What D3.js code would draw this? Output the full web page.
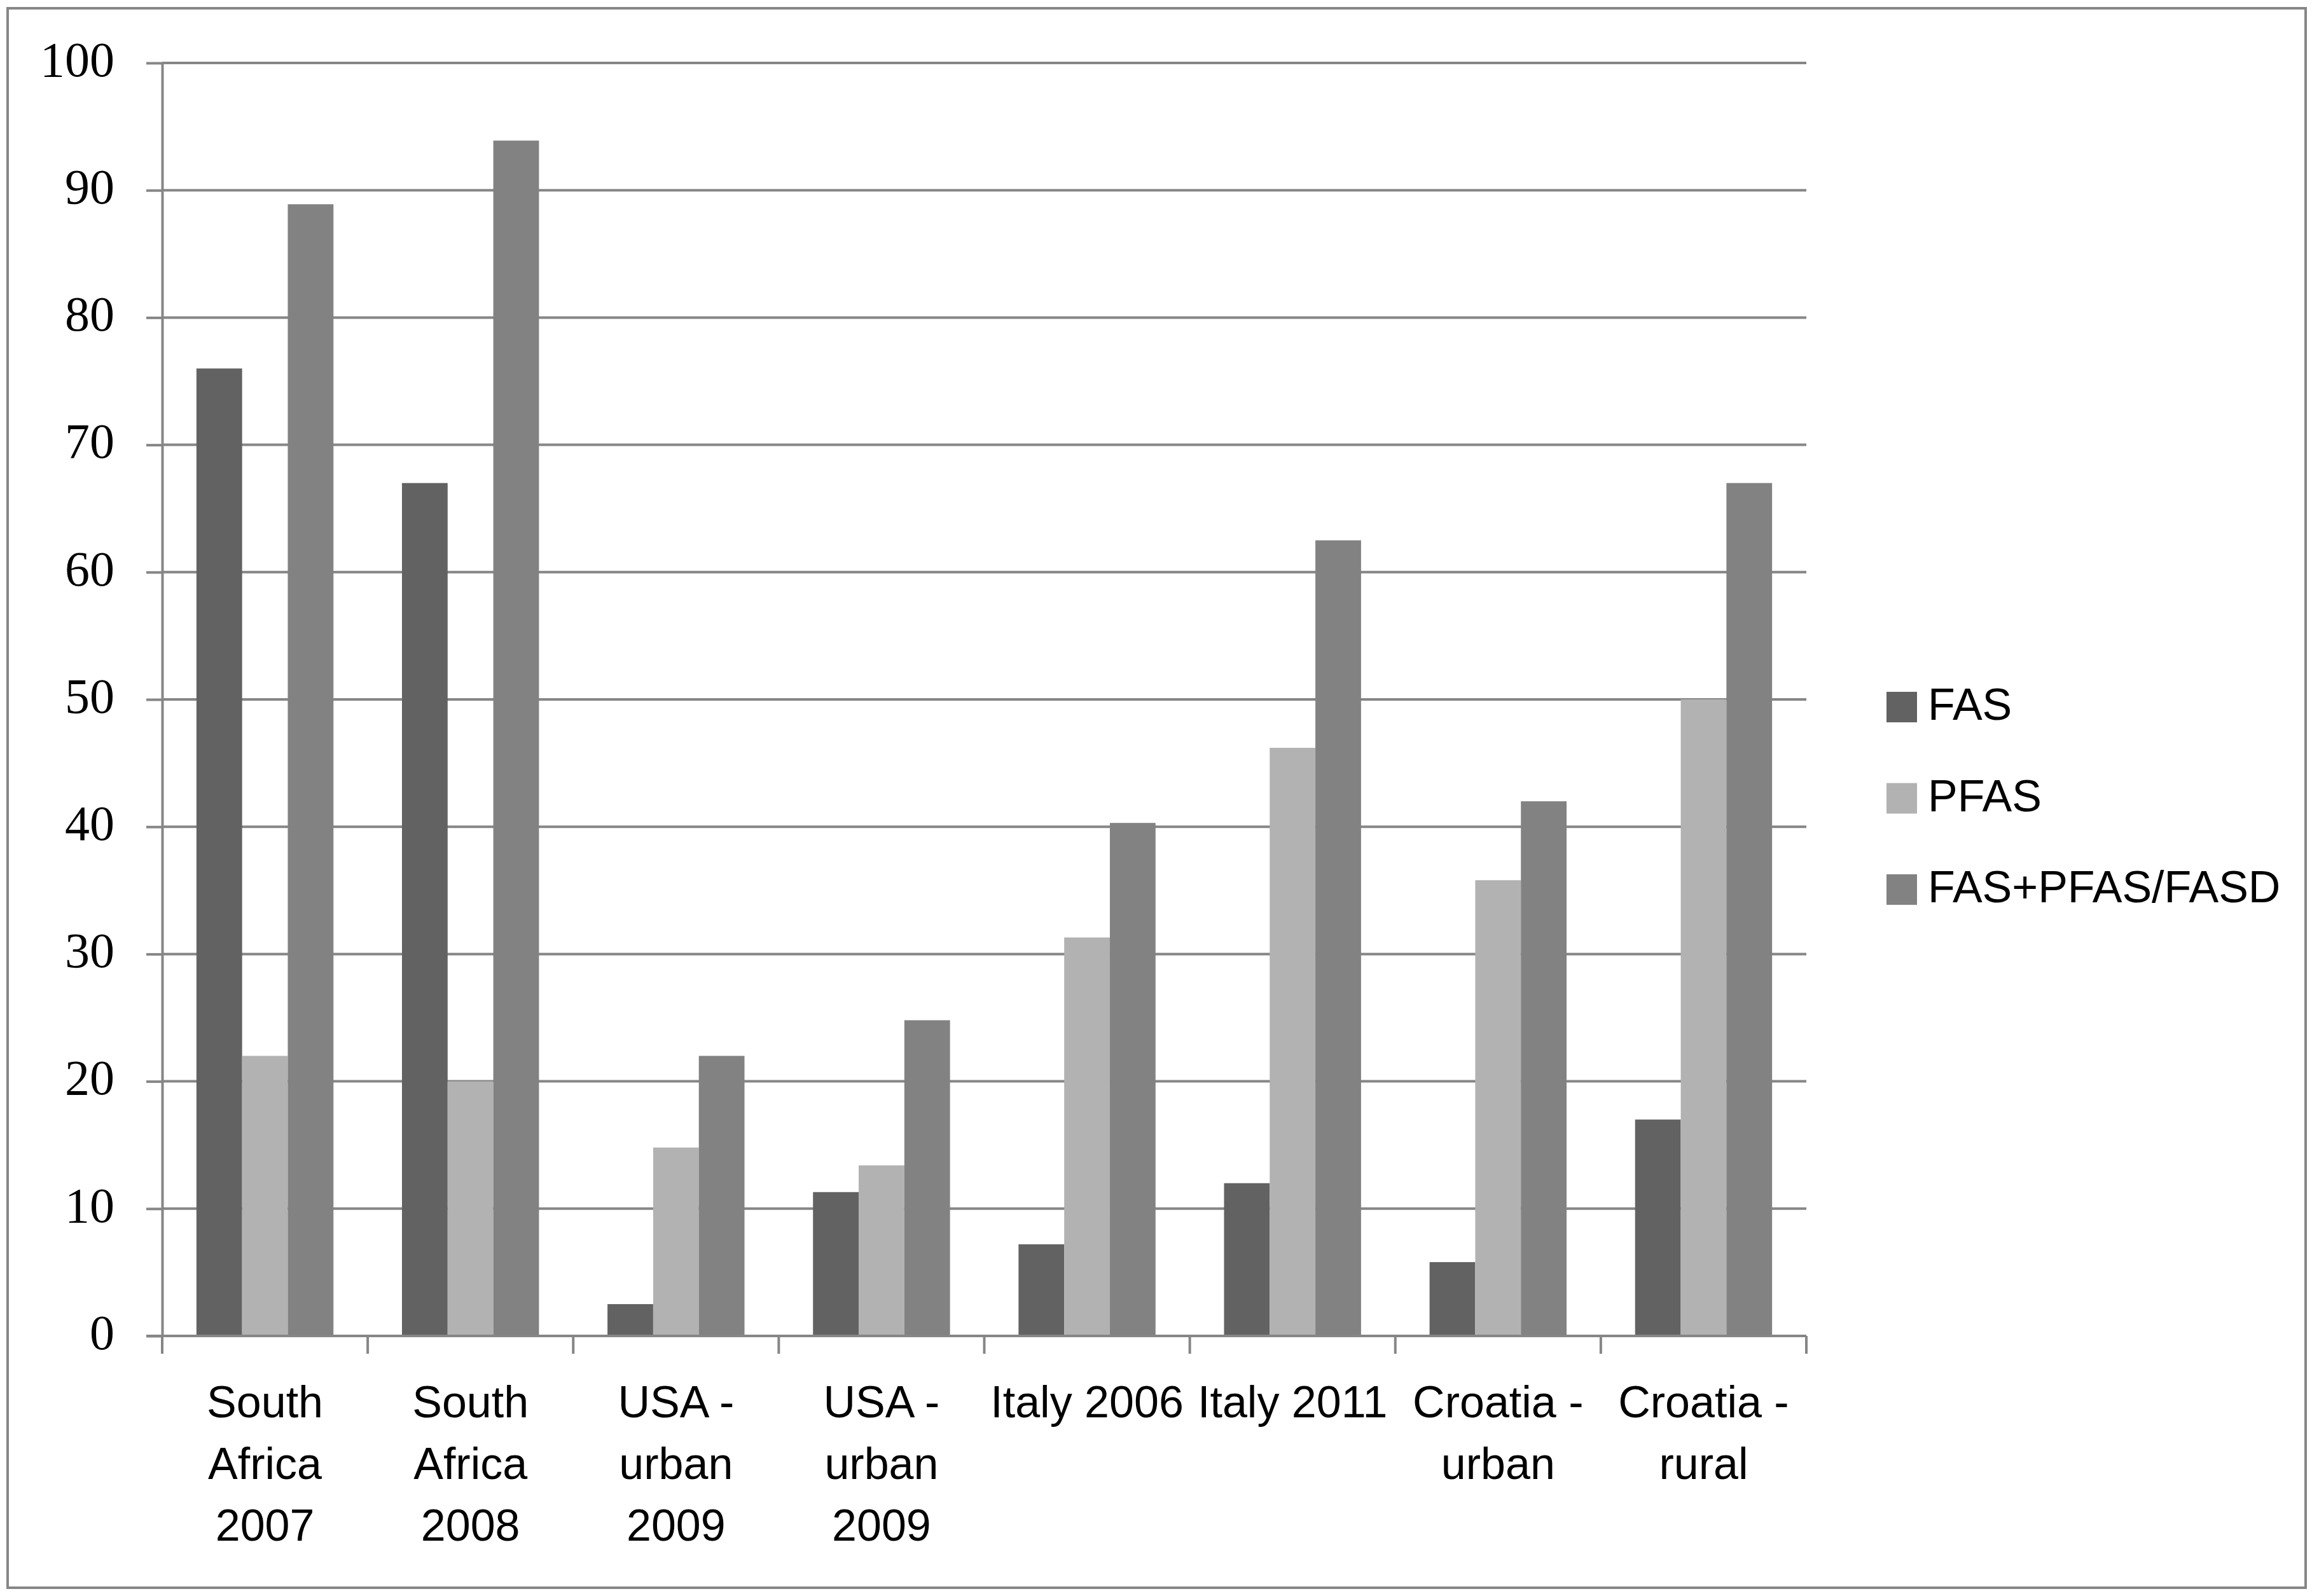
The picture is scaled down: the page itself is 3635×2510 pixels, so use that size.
<!DOCTYPE html>
<html>
<head>
<meta charset="utf-8">
<script src="https://cdn.jsdelivr.net/npm/d3@7"></script>
<style>
  html, body { margin: 0; padding: 0; background: #fff; }
  svg { display: block; }
</style>
</head>
<body>
<script>
// categories, split over lines the same way as the original axis labels
var categories = ["South Africa 2007", "South Africa 2008", "USA - urban 2009 a", "USA - urban 2009 b",
                  "Italy 2006", "Italy 2011", "Croatia - urban", "Croatia - rural"];
var categoryLines = [["South", "Africa", "2007"], ["South", "Africa", "2008"],
                     ["USA -", "urban", "2009"], ["USA -", "urban", "2009"],
                     ["Italy 2006"], ["Italy 2011"], ["Croatia -", "urban"], ["Croatia -", "rural"]];

var seriesNames = ["FAS", "PFAS", "FAS+PFAS/FASD"];
var seriesColors = ["#626262", "#b2b2b2", "#828282"];

var fas  = [76, 67, 2.5, 11.3, 7.2, 12, 5.8, 17];
var pfas = [22, 20, 14.8, 13.4, 31.3, 46.2, 35.8, 50];
var fasd = [88.9, 93.9, 22, 24.8, 40.3, 62.5, 42, 67];
var seriesValues = [fas, pfas, fasd];

var yTicks = [0, 10, 20, 30, 40, 50, 60, 70, 80, 90, 100];

var width = 3635, height = 2510;
var plotLeft = 255, plotRight = 2840, plotTop = 99, plotBottom = 2101;
var lineColor = "#868686";

var svg = d3.select("body").append("svg")
    .attr("width", width)
    .attr("height", height);

svg.append("rect")
    .attr("width", width).attr("height", height)
    .attr("fill", "#fff");

// outer frame
svg.append("rect")
    .attr("x", 12).attr("y", 13)
    .attr("width", 3613).attr("height", 2484)
    .attr("fill", "none")
    .attr("stroke", lineColor)
    .attr("stroke-width", 4);

var x0 = d3.scaleBand().domain(categories).range([plotLeft, plotRight]).padding(0);
var x1 = d3.scaleBand().domain(seriesNames).range([0, x0.bandwidth()])
    .paddingInner(0).paddingOuter(0.75);
var y = d3.scaleLinear().domain([0, 100]).range([plotBottom, plotTop]);

// gridlines
svg.append("g").selectAll("line")
    .data(yTicks.filter(function(d) { return d > 0; }))
    .enter().append("line")
    .attr("x1", plotLeft).attr("x2", plotRight)
    .attr("y1", function(d) { return y(d); })
    .attr("y2", function(d) { return y(d); })
    .attr("stroke", lineColor)
    .attr("stroke-width", 4);

// y axis
var yAxis = svg.append("g")
    .attr("transform", "translate(" + plotLeft + ",0)")
    .call(d3.axisLeft(y).tickValues(yTicks).tickSize(25).tickPadding(50).tickSizeOuter(0));
yAxis.select(".domain").attr("stroke", lineColor).attr("stroke-width", 4);
yAxis.selectAll(".tick line").attr("stroke", lineColor).attr("stroke-width", 4);
yAxis.selectAll(".tick text")
    .attr("dy", "0.26em")
    .attr("fill", "#000")
    .style("font-family", "'Liberation Serif', 'Times New Roman', serif")
    .style("font-size", "78px");

// bars
var groups = svg.append("g").selectAll("g")
    .data(categories)
    .enter().append("g")
    .attr("transform", function(d) { return "translate(" + x0(d) + ",0)"; });

groups.selectAll("rect")
    .data(function(d, i) {
        return seriesNames.map(function(s, j) { return {key: s, value: seriesValues[j][i], idx: j}; });
    })
    .enter().append("rect")
    .attr("x", function(d) { return x1(d.key); })
    .attr("width", x1.bandwidth())
    .attr("y", function(d) { return y(d.value); })
    .attr("height", function(d) { return y(0) - y(d.value); })
    .attr("fill", function(d) { return seriesColors[d.idx]; });

// x axis line and ticks at category boundaries
svg.append("line")
    .attr("x1", plotLeft - 25).attr("x2", plotRight)
    .attr("y1", plotBottom).attr("y2", plotBottom)
    .attr("stroke", lineColor).attr("stroke-width", 4);

var bounds = categories.map(function(c) { return x0(c); }).concat([plotRight]);
svg.append("g").selectAll("line")
    .data(bounds)
    .enter().append("line")
    .attr("x1", function(d) { return d; }).attr("x2", function(d) { return d; })
    .attr("y1", plotBottom).attr("y2", plotBottom + 28)
    .attr("stroke", lineColor).attr("stroke-width", 4);

// category labels
var labels = svg.append("g").selectAll("text")
    .data(categories)
    .enter().append("text")
    .attr("text-anchor", "middle")
    .attr("fill", "#000")
    .style("font-family", "'Liberation Sans', Arial, sans-serif")
    .style("font-size", "70px")
    .attr("transform", function(d) { return "translate(" + (x0(d) + x0.bandwidth() / 2) + ",2229)"; });

labels.selectAll("tspan")
    .data(function(d, i) { return categoryLines[i]; })
    .enter().append("tspan")
    .attr("x", 0)
    .attr("y", function(d, i) { return i * 97; })
    .text(function(d) { return d; });

// legend
var legend = svg.append("g").selectAll("g")
    .data(seriesNames)
    .enter().append("g")
    .attr("transform", function(d, i) { return "translate(2966," + (1088 + i * 143.5) + ")"; });

legend.append("rect")
    .attr("width", 48).attr("height", 48)
    .attr("fill", function(d, i) { return seriesColors[i]; });

legend.append("text")
    .attr("x", 65).attr("y", 44)
    .attr("fill", "#000")
    .style("font-family", "'Liberation Sans', Arial, sans-serif")
    .style("font-size", "70px")
    .text(function(d) { return d; });
</script>
</body>
</html>
